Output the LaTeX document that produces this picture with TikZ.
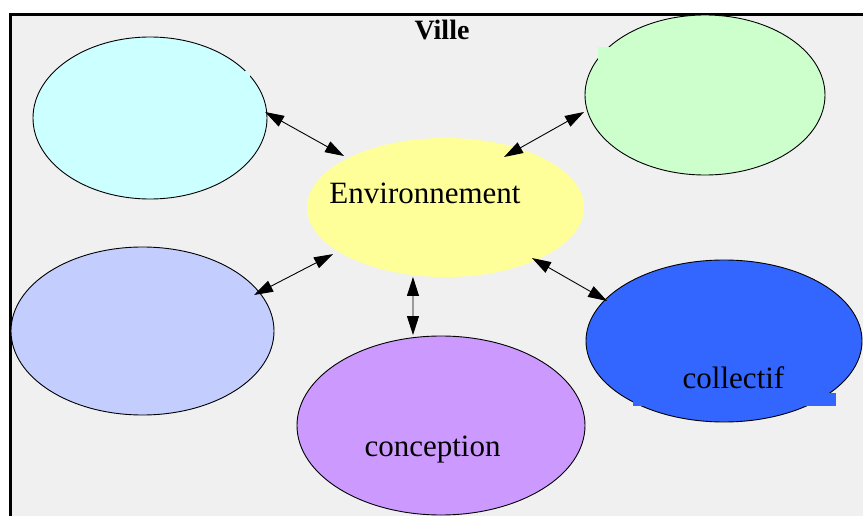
\documentclass[tikz,border=0pt]{standalone}
\usepackage{fontspec}
\setmainfont{Liberation Serif}
\usetikzlibrary{shapes.geometric,arrows.meta}
\definecolor{bgc}{HTML}{F0F0F0}
\definecolor{cyanc}{HTML}{CCFFFF}
\definecolor{greenc}{HTML}{CCFFCC}
\definecolor{yellowc}{HTML}{FFFF99}
\definecolor{periwc}{HTML}{C3CEFF}
\definecolor{purplec}{HTML}{CC99FF}
\definecolor{bluec}{HTML}{3366FF}
\begin{document}
\begin{tikzpicture}[x=1pt,y=1pt,
  bub/.style={ellipse, draw=black, line width=0.9pt, inner sep=0pt},
  lab/.style={anchor=base, inner sep=0pt, font=\fontsize{31}{37}\selectfont},
  link/.style={{Triangle[length=19pt,width=12pt]}-{Triangle[length=19pt,width=12pt]}, line width=0.9pt},
]
\useasboundingbox (0,0) rectangle (863,-516);
\clip (0,0) rectangle (863,-516);
\fill[white] (0,0) rectangle (863,-516);
\fill[bgc] (10.3,-14.2) rectangle (863,-516);
\draw[line width=2.8pt] (10.3,-520) -- (10.3,-14.2) -- (870,-14.2);

% ellipses
\node[bub, fill=cyanc, minimum width=234pt, minimum height=162pt] (tl) at (150,-118) {};
\node[bub, fill=greenc, minimum width=240pt, minimum height=160pt] (tr) at (705,-95) {};
\node[bub, fill=periwc, minimum width=263pt, minimum height=168pt] (ml) at (142.5,-331) {};
\node[bub, fill=yellowc, minimum width=277pt, minimum height=139pt, draw=none] (env) at (445.5,-207.5) {};
\node[bub, fill=purplec, minimum width=288pt, minimum height=179pt] (bot) at (441,-425.5) {};
\node[bub, fill=bluec, minimum width=276pt, minimum height=162pt] (br) at (724,-341) {};

% small label-box remnants
\fill[cyanc] (245,-71) rectangle (250,-79);
\fill[greenc] (597.7,-46.7) rectangle (610,-61.7);
\fill[bluec] (633,-393) rectangle (836,-406);

% texts
\node[font=\bfseries\fontsize{28}{34}\selectfont, anchor=base, inner sep=0pt] (title) at (442,-39.3) {Ville};
\node[lab] (envt) at (425,-204) {Environnement};
\node[lab] (cont) at (432.5,-456) {conception};
\node[lab] (colt) at (733.5,-388) {collectif};

% connectors
\draw[link] ([shift={(3:115.2)}]tl.center) -- ([shift={(153.1:113.8)}]env.center);
\draw[link] ([shift={(188:122.2)}]tr.center) -- ([shift={(40.8:77.3)}]env.center);
\draw[link] ([shift={(17.9:117.2)}]ml.center) -- ([shift={(202.5:121.7)}]env.center);
\draw[link] ([shift={(244.9:76.7)}]env.center) -- ([shift={(107.2:94.7)}]bot.center);
\draw[link] ([shift={(329.7:100.2)}]env.center) -- ([shift={(161.1:123.6)}]br.center);
\end{tikzpicture}
\end{document}
